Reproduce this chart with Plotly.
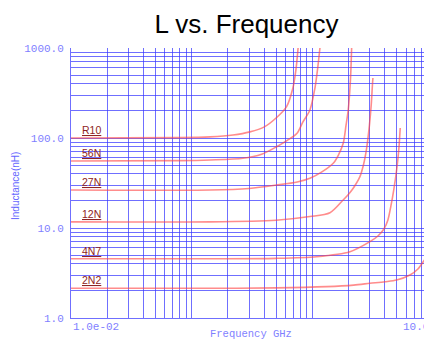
import numpy as np
import plotly.graph_objects as go

# ---- data ----
labels = ["R10", "56N", "27N", "12N", "4N7", "2N2"]
flat_levels = [100, 55.5, 26.4, 11.7, 4.55, 2.14]

f_R10 = [0.01, 0.08, 0.142, 0.22, 0.304, 0.40, 0.506, 0.612, 0.690, 0.731, 0.762]
L_R10 = [100, 101, 103, 108, 117, 133, 169, 223, 359, 570, 1000]

f_56N = [0.01, 0.08, 0.142, 0.266, 0.38, 0.506, 0.62, 0.747, 0.836, 0.955, 1.051, 1.113, 1.156]
L_56N = [55.5, 56, 57, 59.5, 66, 80, 94, 113, 151, 205, 359, 631, 1000]

f_27N = [0.01, 0.142, 0.3, 0.506, 0.75, 0.955, 1.2, 1.49, 1.645, 1.803, 1.899, 1.984, 2.069, 2.117]
L_27N = [26.4, 26.4, 27.5, 30, 32.5, 35.7, 42, 52.4, 64.7, 87.3, 136, 205, 441, 1000]

f_12N = [0.01, 0.142, 0.5, 0.955, 1.4, 1.80, 1.972, 2.13, 2.297, 2.48, 2.651, 2.82, 2.973, 3.076, 3.148, 3.177]
L_12N = [11.7, 11.7, 12.2, 13.4, 14.8, 20.5, 23.3, 26.4, 30.8, 37.2, 50.1, 77.4, 139, 233, 388, 464]

f_4N7 = [0.01, 0.142, 0.5, 1.085, 2.05, 3.0, 3.496, 3.92, 4.23, 4.48, 4.74, 5.02, 5.22, 5.35]
L_4N7 = [4.55, 4.55, 4.6, 4.8, 5.45, 7.05, 8.15, 9.75, 12.3, 17.6, 27.1, 46.4, 77.4, 129]

f_2N2 = [0.01, 0.142, 0.5, 1.314, 2.2, 3.0, 4.0, 4.99, 6.44, 7.5, 8.30, 9.0, 9.73, 10.5]
L_2N2 = [2.14, 2.14, 2.16, 2.23, 2.32, 2.43, 2.53, 2.64, 3.0, 3.5, 4.22, 5.0, 6.2, 8.5]

freqs = [f_R10, f_56N, f_27N, f_12N, f_4N7, f_2N2]
inds = [L_R10, L_56N, L_27N, L_12N, L_4N7, L_2N2]

y_major = [1, 10, 100, 1000]
y_major_text = ["1.0", "10.0", "100.0", "1000.0"]
x_first_label = "1.0e-02"
x_last_label = "10.0"

# grid values (log decades with minor subdivisions)
x_grid = [m * 10.0 ** e for e in (-2, -1, 0) for m in range(1, 10)] + [10]
y_grid = [m * 10.0 ** e for e in (0, 1, 2) for m in range(1, 10)] + [1000]
y_grid_text = [y_major_text[y_major.index(v)] if v in y_major else "" for v in y_grid]

# ---- styles ----
grid_col = "rgba(55,55,255,0.72)"
curve_col = "rgba(255,70,70,0.62)"
label_col = "#8e2323"
tick_col = "#7f7fff"
mono = "Liberation Mono, Courier New, monospace"
sans = "Liberation Sans, Arial, sans-serif"

# page has an 8px body margin, figure is sized to fit the 432x340 window
W, H = 424, 332

fig = go.Figure()
for f, L in zip(freqs, inds):
    fig.add_trace(go.Scatter(x=f, y=L, mode="lines",
                             line=dict(color=curve_col, width=1.6, shape="spline", smoothing=0.8),
                             showlegend=False, hoverinfo="skip"))

annotations = []
for lab, lv in zip(labels, flat_levels):
    annotations.append(dict(text="<u>" + lab + "</u>", xref="paper", x=0.025, xanchor="left",
                            yref="y", y=float(np.log10(lv)), yanchor="bottom", yshift=0,
                            showarrow=False, font=dict(family=sans, size=10.5, color=label_col)))
annotations += [
    dict(text=x_first_label, xref="paper", x=0.0, xanchor="left", yref="paper", y=0, yanchor="top",
         yshift=-1, showarrow=False, font=dict(family=mono, size=11, color=tick_col)),
    dict(text=x_last_label, xref="paper", x=1.0, xanchor="right", yref="paper", y=0, yanchor="top",
         xshift=-1, yshift=-1, showarrow=False, font=dict(family=mono, size=11, color=tick_col)),
    dict(text="Frequency GHz", xref="paper", x=(251 - 71) / 361, xanchor="center", yref="paper",
         y=0, yanchor="top", yshift=-8, showarrow=False,
         font=dict(family=mono, size=10.5, color=tick_col)),
    dict(text="Inductance(nH)", xref="paper", x=(15 - 71) / 361, xanchor="center", yref="paper",
         y=(318 - 186) / 270, yanchor="middle", textangle=-90, showarrow=False,
         font=dict(family=sans, size=10, color="#6666ff")),
]

fig.update_layout(
    width=W, height=H,
    margin=dict(l=63, r=0, t=40, b=22, pad=0),
    paper_bgcolor="white", plot_bgcolor="white",
    title=dict(text="L vs. Frequency", x=(246.5 - 8) / W, xanchor="center", xref="container",
               y=1 - (24 - 8) / H, yanchor="middle", yref="container",
               font=dict(family=sans, size=26, color="black")),
    xaxis=dict(type="log", range=[-2, 0.9917], tickvals=x_grid, showticklabels=False,
               showgrid=True, gridcolor=grid_col, gridwidth=1, zeroline=False, automargin=False,
               showline=True, linecolor=grid_col, linewidth=1, ticks=""),
    yaxis=dict(type="log", range=[0, 3], tickvals=y_grid, ticktext=y_grid_text,
               showgrid=True, gridcolor=grid_col, gridwidth=1, zeroline=False, automargin=False,
               showline=True, linecolor=grid_col, linewidth=1, ticks="",
               ticklabelstandoff=4,
               tickfont=dict(family=mono, size=11, color=tick_col)),
    annotations=annotations,
)

fig.write_html("out.html")
